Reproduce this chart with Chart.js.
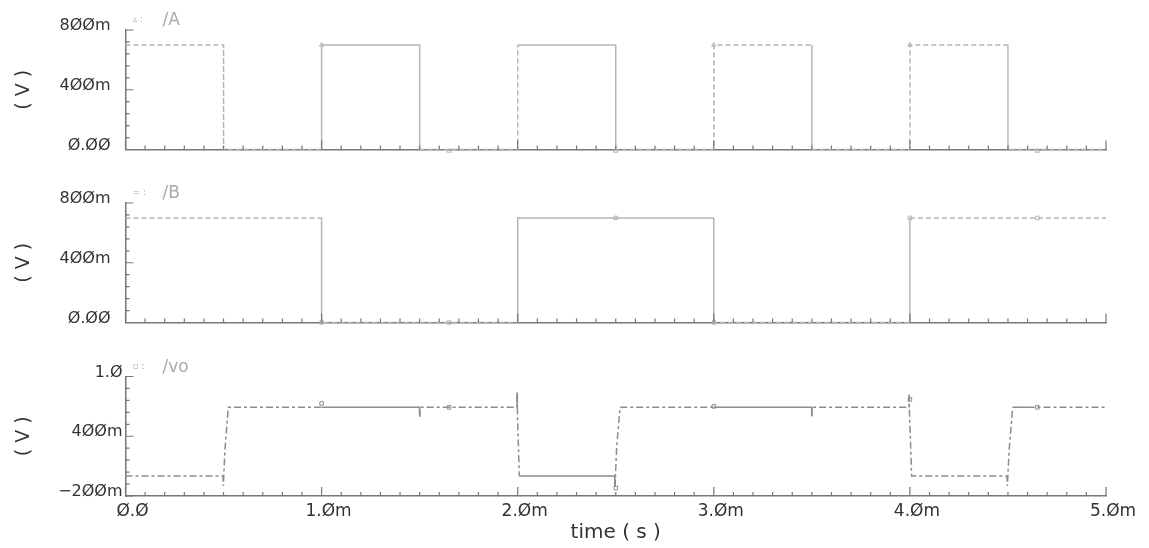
<!DOCTYPE html>
<html>
<head>
<meta charset="utf-8">
<script src="https://cdn.jsdelivr.net/npm/chart.js@4.4.0/dist/chart.umd.min.js"></script>
<style>
  html, body { margin: 0; padding: 0; background: #fff; }
  #wrap { position: relative; width: 1149px; height: 548px; overflow: hidden; }
  .panel { position: absolute; left: 0; width: 1149px; }
</style>
</head>
<body>
<div id="wrap">
  <div class="panel" style="top:0;height:170px"><canvas id="chartA"></canvas></div>
  <div class="panel" style="top:170px;height:170px"><canvas id="chartB"></canvas></div>
  <div class="panel" style="top:340px;height:208px"><canvas id="chartVo"></canvas></div>
</div>
<script>
// tick labels (time in ms, voltages in V)
var xTickLabels = ['Ø.Ø', '1.Øm', '2.Øm', '3.Øm', '4.Øm', '5.Øm'];
var yTickLabelsAB = ['Ø.ØØ', '4ØØm', '8ØØm'];
var yTickLabelsVo = ['−2ØØm', '4ØØm', '1.Ø'];

// /A
var timeA = [0, 0.5, 0.5, 1.0, 1.0, 1.5, 1.5, 2.0, 2.0, 2.5, 2.5, 3.0, 3.0, 3.5, 3.5, 4.0, 4.0, 4.5, 4.5, 5.0];
var valuesA = [0.7, 0.7, 0, 0, 0.7, 0.7, 0, 0, 0.7, 0.7, 0, 0, 0.7, 0.7, 0, 0, 0.7, 0.7, 0, 0];
var markTimeA = [1.0, 1.65, 2.5, 3.0, 4.0, 4.65];
var markValA = [0.7, -0.01, -0.01, 0.7, 0.7, -0.01];

// /B
var timeB = [0, 1.0, 1.0, 2.0, 2.0, 3.0, 3.0, 4.0, 4.0, 5.0];
var valuesB = [0.7, 0.7, 0, 0, 0.7, 0.7, 0, 0, 0.7, 0.7];
var markTimeB = [1.0, 1.65, 2.5, 3.0, 4.0, 4.65];
var markValB = [0, 0, 0.7, 0, 0.7, 0.7];

// /vo
var timeVo = [0, 0.497, 0.499, 0.507, 0.524, 1.0, 1.499, 1.5, 1.501, 1.996, 1.997, 1.998, 2.008,
  2.494, 2.496, 2.505, 2.522, 3.0, 3.499, 3.5, 3.501, 3.995, 3.996, 3.997, 4.009,
  4.495, 4.497, 4.506, 4.524, 4.6, 5.0];
var valuesVo = [0, 0, -0.1, 0.26, 0.69, 0.69, 0.69, 0.6, 0.69, 0.69, 0.84, 0.69, 0,
  0, -0.11, 0.3, 0.69, 0.69, 0.69, 0.6, 0.69, 0.69, 0.82, 0.69, 0,
  0, -0.1, 0.26, 0.69, 0.69, 0.69];
var markTimeVo = [1.0, 1.65, 2.5, 3.0, 4.0, 4.65];
var markValVo = [0.73, 0.69, -0.12, 0.7, 0.77, 0.69];

var FONT = 'DejaVu Sans';

function toPoints(xs, ys) {
  return xs.map(function (x, i) { return { x: x, y: ys[i] }; });
}

// solid where the segment midpoint falls into one of the ranges, dashed elsewhere
function dashFor(solidRanges, dash) {
  return function (ctx) {
    var mid = (ctx.p0.parsed.x + ctx.p1.parsed.x) / 2;
    for (var i = 0; i < solidRanges.length; i++) {
      if (mid >= solidRanges[i][0] && mid <= solidRanges[i][1]) return [];
    }
    return dash;
  };
}

// inward ticks + little legend, like the waveform viewer
var scopeTicks = {
  id: 'scopeTicks',
  afterDraw: function (chart, args, opts) {
    var ctx = chart.ctx, area = chart.chartArea;
    var xs = chart.scales.x, ys = chart.scales.y;
    ctx.save();
    ctx.strokeStyle = '#777';
    ctx.lineWidth = 1.2;
    ctx.beginPath();
    xs.ticks.forEach(function (t, i) {
      var px = xs.getPixelForValue(t.value);
      var len = i % 10 === 0 ? 9 : 4;
      ctx.moveTo(px, area.bottom);
      ctx.lineTo(px, area.bottom - len);
    });
    ys.ticks.forEach(function (t, i) {
      var py = ys.getPixelForValue(t.value);
      var len = i % 5 === 0 ? 8 : 4;
      ctx.moveTo(area.left, py);
      ctx.lineTo(area.left + len, py);
    });
    ctx.stroke();

    ctx.fillStyle = '#aaa';
    ctx.textBaseline = 'alphabetic';
    ctx.font = '9px ' + FONT;
    ctx.fillText(opts.mark + ' :', area.left + 7, area.top - 8);
    ctx.font = '17px ' + FONT;
    ctx.fillText(opts.name, area.left + 37, area.top - 5);
    ctx.restore();
  }
};

function makePanel(id, cfg) {
  return new Chart(document.getElementById(id), {
    type: 'line',
    data: {
      datasets: [{
        data: toPoints(cfg.time, cfg.values),
        borderColor: cfg.color,
        borderWidth: 1.5,
        pointRadius: 0,
        fill: false,
        clip: 6,
        segment: { borderDash: dashFor(cfg.solid, cfg.dash) }
      }, {
        data: toPoints(cfg.markTime, cfg.markVal),
        showLine: false,
        pointStyle: cfg.pointStyle,
        pointRadius: 2.5,
        pointBorderWidth: 1,
        pointBorderColor: cfg.color,
        pointBackgroundColor: 'rgba(0,0,0,0)',
        clip: 6
      }]
    },
    options: {
      responsive: true,
      maintainAspectRatio: false,
      animation: false,
      layout: { padding: { top: cfg.padTop, right: 43, bottom: 0, left: 0 } },
      plugins: {
        legend: { display: false },
        tooltip: { enabled: false },
        scopeTicks: { name: cfg.name, mark: cfg.mark }
      },
      scales: {
        x: {
          type: 'linear',
          min: 0,
          max: 5,
          grid: { display: false, drawTicks: false },
          border: { color: '#777', width: 1.5 },
          ticks: {
            display: cfg.showX,
            stepSize: 0.1,
            autoSkip: false,
            maxRotation: 0,
            padding: 5,
            labelOffset: 7,
            color: '#333',
            font: { family: FONT, size: 17 },
            callback: function (v, i) { return i % 10 === 0 ? xTickLabels[i / 10] : ''; }
          },
          title: {
            display: cfg.showX,
            text: 'time ( s )',
            color: '#333',
            font: { family: FONT, size: 20 },
            padding: { top: 0, bottom: 3 }
          },
          afterFit: function (s) { s.height = cfg.xHeight; }
        },
        y: {
          min: cfg.yMin,
          max: cfg.yMax,
          grid: { display: false, drawTicks: false },
          border: { color: '#777', width: 1.5 },
          ticks: {
            stepSize: cfg.yStep,
            autoSkip: false,
            padding: cfg.yPad,
            labelOffset: -4,
            color: '#333',
            font: { family: FONT, size: 16 },
            callback: function (v, i) { return i % 5 === 0 ? cfg.yLabels[i / 5] : ''; }
          },
          title: {
            display: true,
            text: '( V )',
            color: '#333',
            font: { family: FONT, size: 19 },
            padding: { top: 12.5, bottom: 0 }
          },
          afterFit: function (s) {
            s.width = 125.5;
            // label overflow must not push the plot area around
            s.paddingTop = 0;
            s.paddingBottom = 0;
          }
        }
      }
    },
    plugins: [scopeTicks]
  });
}

makePanel('chartA', {
  time: timeA, values: valuesA, markTime: markTimeA, markVal: markValA,
  name: '/A', mark: '▵', pointStyle: 'triangle',
  color: '#b4b4b4', dash: [5, 3], solid: [[0.99, 1.51], [2.01, 2.49], [3.49, 3.51]],
  yMin: 0, yMax: 0.8, yStep: 0.08, yLabels: yTickLabelsAB, yPad: 15,
  padTop: 30, xHeight: 20.5, showX: false
});

makePanel('chartB', {
  time: timeB, values: valuesB, markTime: markTimeB, markVal: markValB,
  name: '/B', mark: '=', pointStyle: 'rect',
  color: '#b4b4b4', dash: [5, 3], solid: [[1.99, 2.8], [3.99, 4.01]],
  yMin: 0, yMax: 0.8, yStep: 0.08, yLabels: yTickLabelsAB, yPad: 15,
  padTop: 33, xHeight: 17.5, showX: false
});

makePanel('chartVo', {
  time: timeVo, values: valuesVo, markTime: markTimeVo, markVal: markValVo,
  name: '/vo', mark: '▫', pointStyle: 'rect',
  color: '#8c8c8c', dash: [7, 3, 3, 3],
  solid: [[1.0, 1.5], [1.997, 1.998], [2.009, 2.499], [3.0, 3.5], [4.52, 4.6]],
  yMin: -0.2, yMax: 1.0, yStep: 0.12, yLabels: yTickLabelsVo, yPad: 3,
  padTop: 36.5, xHeight: 52, showX: true
});
</script>
</body>
</html>
